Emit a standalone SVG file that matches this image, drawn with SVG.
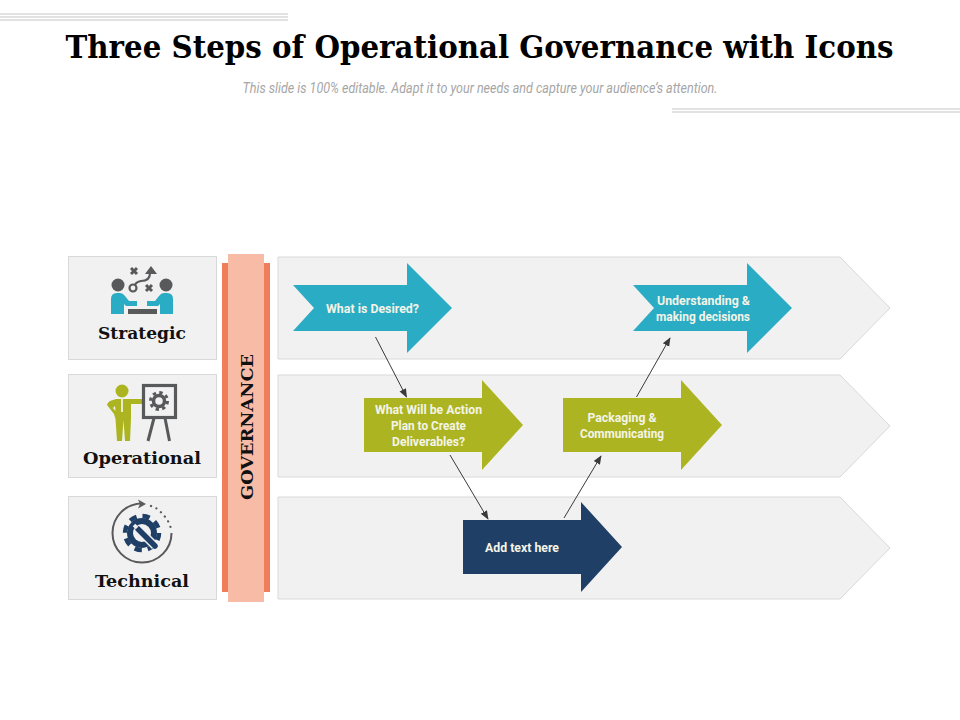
<svg xmlns="http://www.w3.org/2000/svg" width="960" height="720" viewBox="0 0 960 720">
<style>
.rule{fill:none;stroke:#d9d9d9;stroke-width:1.5}
.box{fill:#f1f1f1;stroke:#d9d9d9;stroke-width:1}
.lbl{font-family:"DejaVu Serif","Liberation Serif",serif;font-weight:700;font-size:16.5px;fill:#111;text-anchor:middle}
.t{font-family:"Roboto","Liberation Sans",sans-serif;font-weight:700;font-size:13px;fill:#f4f4e8;text-anchor:middle}
.g{fill:#58595b}.tl{fill:#2aacc4}.ol{fill:#acb521}.nv{fill:#1f3f66}
.conn{fill:none;stroke:#3a3a3a;stroke-width:1;marker-end:url(#ah)}
</style>
<defs><marker id="ah" viewBox="0 0 10 10" refX="9" refY="5" markerWidth="9" markerHeight="9" orient="auto" markerUnits="userSpaceOnUse"><path d="M0 1 L10 5 L0 9 Z" fill="#3a3a3a"/></marker></defs>
<rect width="960" height="720" fill="#fff"/>
<g id="rules">
<path class="rule" d="M0 14H288M0 17H288M0 20H288M672 109H960M672 112H960"/>
</g>
<text id="title" transform="translate(479.5 58) scale(.916 1)" text-anchor="middle" font-family="'DejaVu Serif','Liberation Serif',serif" font-weight="700" font-size="32" fill="#000">Three Steps of Operational Governance with Icons</text>
<text id="subtitle" x="480" y="93" text-anchor="middle" textLength="475" lengthAdjust="spacingAndGlyphs" font-family="'Roboto','Liberation Sans',sans-serif" font-style="italic" font-size="14" fill="#a6a6a6">This slide is 100% editable. Adapt it to your needs and capture your audience’s attention.</text>

<g id="strip-1"><path class="box" d="M278 257H840L890 308L840 359H278Z"/></g>
<g id="strip-2"><path class="box" d="M278 375H840L890 426L840 477H278Z"/></g>
<g id="strip-3"><path class="box" d="M278 497H840L890 548L840 599H278Z"/></g>

<g id="governance">
<rect x="222" y="263" width="48" height="329" fill="#ef7f5b"/>
<rect x="228" y="254" width="36" height="348" fill="#f7bba6"/>
<text transform="translate(253 427) rotate(-90)" text-anchor="middle" font-family="'DejaVu Serif','Liberation Serif',serif" font-weight="700" font-size="17" fill="#111" textLength="146" lengthAdjust="spacingAndGlyphs">GOVERNANCE</text>
</g>

<g id="strategic">
<rect class="box" x="68.5" y="256.500" width="148" height="103"/>
<circle class="g" cx="118" cy="285" r="6.500"/><circle class="g" cx="166" cy="285" r="6.500"/>
<path class="tl" d="M111 314V299Q111 293 117 293H120Q123 293 125 296L129 301H137V306H126L124 304V314Z"/>
<path class="tl" d="M173 314V299Q173 293 167 293H164Q161 293 159 296L155 301H147V306H158L160 304V314Z"/>
<rect class="g" x="128" y="309" width="29" height="5"/>
<g fill="none" stroke="#58595b" stroke-width="3"><path d="M131 268L137 274M137 268L131 274M146 285L152 291M152 285L146 291"/></g>
<g fill="none" stroke="#58595b" stroke-width="2.200"><circle cx="133" cy="288" r="3.500"/><path d="M135 285Q136 282 141 281Q150 281 150 273"/></g>
<path class="g" d="M151 266L157 274H145Z"/>
<text class="lbl" x="142" y="338.500" textLength="88" lengthAdjust="spacingAndGlyphs">Strategic</text>
</g>

<g id="operational">
<rect class="box" x="68.5" y="374.500" width="148" height="103"/>
<circle class="ol" cx="122" cy="391" r="6.500"/>
<path class="ol" d="M116 399H128L145 399V404H131V419L130 441H125L123.500 420L122 441H117L115.500 419L114 414L107 405Q107 403 110 401ZM115 406L113 408L115.500 411Z" fill-rule="evenodd"/>
<path d="M122 399V412" stroke="#fff" stroke-width="1.500"/>
<rect x="143.500" y="385.500" width="32" height="32" fill="#f1f1f1" stroke="#58595b" stroke-width="3.200"/>
<path d="M154 418L148 441M165 418L169.500 441" stroke="#58595b" stroke-width="3" fill="none"/>
<circle cx="159" cy="401" r="5.500" fill="none" stroke="#58595b" stroke-width="3.500"/>
<circle cx="159" cy="401" r="8.500" fill="none" stroke="#58595b" stroke-width="3" stroke-dasharray="3.340 3.340"/>
<text class="lbl" x="142" y="463.500" textLength="118" lengthAdjust="spacingAndGlyphs">Operational</text>
</g>

<g id="technical">
<rect class="box" x="68.5" y="496.500" width="148" height="103"/>
<path d="M171.500 533A29.500 29.500 0 1 1 142 503.500" fill="none" stroke="#58595b" stroke-width="2"/>
<path class="g" d="M146 504L138 499.500L140 504L138 508.500Z"/>
<path d="M151 506L156 508L163 514L168 521L170.500 527" fill="none" stroke="#58595b" stroke-width="2.200" stroke-linecap="round" stroke-dasharray="0.100 5.800"/>
<circle cx="142" cy="533" r="15" fill="#1f3f66"/>
<circle cx="142" cy="533" r="17" fill="none" stroke="#1f3f66" stroke-width="4.500" stroke-dasharray="7.350 6"/>
<circle cx="142" cy="533" r="9" fill="#f1f1f1"/>
<path d="M138 529L155 546" stroke="#f1f1f1" stroke-width="8.500" fill="none"/>
<path d="M138 529L155 546" stroke="#1f3f66" stroke-width="5.500" fill="none" stroke-linecap="round"/>
<path d="M137 528L134 525" stroke="#f1f1f1" stroke-width="3.500" fill="none"/>
<text class="lbl" x="142" y="587" textLength="94" lengthAdjust="spacingAndGlyphs">Technical</text>
</g>

<g id="connectors">
<path class="conn" d="M375.500 337L406.500 397"/>
<path class="conn" d="M450 455L488 519"/>
<path class="conn" d="M564 518L601 456"/>
<path class="conn" d="M636.500 397L670 338"/>
</g>

<g id="a-desired"><path class="tl" d="M293 285H407V263L452 308L407 353V331H293L314 308Z"/><text class="t" x="372.500" y="313" textLength="93" lengthAdjust="spacingAndGlyphs">What is Desired?</text></g>
<g id="a-understanding"><path class="tl" d="M633 285H747V263L792 308L747 353V331H633L654 308Z"/><text class="t" x="703.500" y="305" textLength="93" lengthAdjust="spacingAndGlyphs">Understanding &amp;</text><text class="t" x="703" y="321" textLength="94" lengthAdjust="spacingAndGlyphs">making decisions</text></g>
<g id="a-action"><path class="ol" d="M364 398H482V380L523 425L482 470V452H364Z"/><text class="t" x="428.500" y="414" textLength="107" lengthAdjust="spacingAndGlyphs">What Will be Action</text><text class="t" x="428.500" y="430" textLength="75" lengthAdjust="spacingAndGlyphs">Plan to Create</text><text class="t" x="428.500" y="446" textLength="73" lengthAdjust="spacingAndGlyphs">Deliverables?</text></g>
<g id="a-packaging"><path class="ol" d="M563 398H681V380L722 425L681 470V452H563Z"/><text class="t" x="622" y="422" textLength="69" lengthAdjust="spacingAndGlyphs">Packaging &amp;</text><text class="t" x="622" y="438" textLength="84" lengthAdjust="spacingAndGlyphs">Communicating</text></g>
<g id="a-add"><path class="nv" d="M463 520H581V502L622 547L581 592V574H463Z"/><text class="t" x="522" y="552" textLength="74" lengthAdjust="spacingAndGlyphs">Add text here</text></g>
</svg>
